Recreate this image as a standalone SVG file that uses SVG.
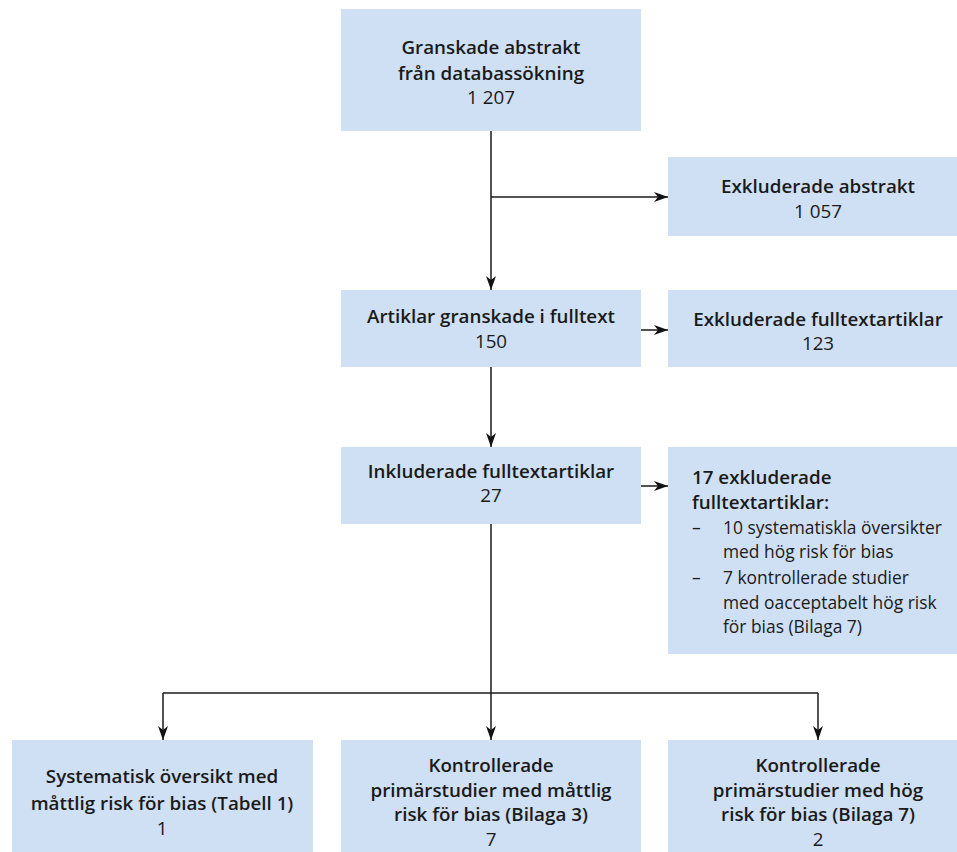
<svg xmlns="http://www.w3.org/2000/svg" width="957" height="852" viewBox="0 0 957 852">
<style>
.box{fill:#cfe0f4}
.t{font-family:"Open Sans","Liberation Sans",sans-serif;font-size:18.8px;fill:#1a1a1a}
.b{font-weight:600}
.c{text-anchor:middle}
.s{font-size:17.4px}
.ln{stroke:#1a1a1a;stroke-width:1.5;fill:none}
</style>
<defs>
<marker id="ah" viewBox="0 0 14 10" refX="14" refY="5" markerWidth="14" markerHeight="10" markerUnits="userSpaceOnUse" orient="auto">
<path d="M0,0 L14,5 L0,10 L4,5 z" fill="#111"/>
</marker>
</defs>
<rect width="957" height="852" fill="#fff"/>
<g id="connectors">
<line class="ln" x1="491" y1="131" x2="491" y2="290" marker-end="url(#ah)"/>
<line class="ln" x1="491" y1="197" x2="668" y2="197" marker-end="url(#ah)"/>
<line class="ln" x1="641" y1="330" x2="668" y2="330" marker-end="url(#ah)"/>
<line class="ln" x1="491" y1="367" x2="491" y2="447" marker-end="url(#ah)"/>
<line class="ln" x1="641" y1="486" x2="668" y2="486" marker-end="url(#ah)"/>
<line class="ln" x1="491" y1="524" x2="491" y2="740" marker-end="url(#ah)"/>
<polyline class="ln" points="163,693 818,693"/>
<line class="ln" x1="163" y1="693" x2="163" y2="740" marker-end="url(#ah)"/>
<line class="ln" x1="818" y1="693" x2="818" y2="740" marker-end="url(#ah)"/>
</g>
<g id="n1">
<rect class="box" x="341" y="9" width="300" height="122"/>
<text class="t b c" x="491" y="54">Granskade abstrakt</text>
<text class="t b c" x="491" y="80">från databassökning</text>
<text class="t c" x="491" y="104">1 207</text>
</g>
<g id="n2">
<rect class="box" x="668" y="157" width="300" height="79"/>
<text class="t b c" x="818" y="193">Exkluderade abstrakt</text>
<text class="t c" x="818" y="218">1 057</text>
</g>
<g id="n3">
<rect class="box" x="341" y="290" width="300" height="77"/>
<text class="t b c" x="491" y="323">Artiklar granskade i fulltext</text>
<text class="t c" x="491" y="348">150</text>
</g>
<g id="n4">
<rect class="box" x="668" y="290" width="300" height="77"/>
<text class="t b c" x="818" y="326">Exkluderade fulltextartiklar</text>
<text class="t c" x="818" y="350">123</text>
</g>
<g id="n5">
<rect class="box" x="341" y="447" width="300" height="77"/>
<text class="t b c" x="491" y="478">Inkluderade fulltextartiklar</text>
<text class="t c" x="491" y="502">27</text>
</g>
<g id="n6">
<rect class="box" x="668" y="447" width="300" height="207"/>
<text class="t b" x="692" y="484">17 exkluderade</text>
<text class="t b" x="692" y="509">fulltextartiklar:</text>
<text class="t s" x="692" y="534">–</text>
<text class="t s" x="723" y="534">10 systematiskla översikter</text>
<text class="t s" x="723" y="558">med hög risk för bias</text>
<text class="t s" x="692" y="584">–</text>
<text class="t s" x="723" y="584">7 kontrollerade studier</text>
<text class="t s" x="723" y="609">med oacceptabelt hög risk</text>
<text class="t s" x="723" y="633">för bias (Bilaga 7)</text>
</g>
<g id="n7">
<rect class="box" x="12" y="740" width="301" height="112"/>
<text class="t b c" x="162" y="783">Systematisk översikt med</text>
<text class="t b c" x="162" y="810">måttlig risk för bias (Tabell 1)</text>
<text class="t c" x="162" y="835">1</text>
</g>
<g id="n8">
<rect class="box" x="341" y="740" width="300" height="112"/>
<text class="t b c" x="491" y="772">Kontrollerade</text>
<text class="t b c" x="491" y="797">primärstudier med måttlig</text>
<text class="t b c" x="491" y="821">risk för bias (Bilaga 3)</text>
<text class="t c" x="491" y="846">7</text>
</g>
<g id="n9">
<rect class="box" x="668" y="740" width="300" height="112"/>
<text class="t b c" x="818" y="772">Kontrollerade</text>
<text class="t b c" x="818" y="797">primärstudier med hög</text>
<text class="t b c" x="818" y="821">risk för bias (Bilaga 7)</text>
<text class="t c" x="818" y="846">2</text>
</g>
</svg>
